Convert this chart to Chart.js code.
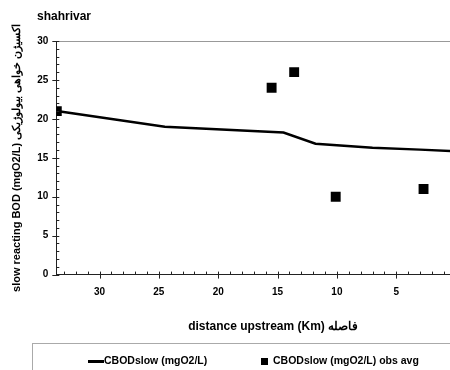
<!DOCTYPE html>
<html>
<head>
<meta charset="utf-8">
<script src="https://cdn.jsdelivr.net/npm/chart.js@4.4.1/dist/chart.umd.min.js"></script>
<style>
  body { margin: 0; overflow: hidden; background: #fff; }
  #wrap { position: relative; width: 516px; height: 370px; }
  canvas { display: block; }
  #legend {
    position: absolute; left: 32px; top: 343px; width: 452px; height: 40px;
    border: 1px solid #aaa; box-sizing: border-box;
    font: bold 10.5px 'Liberation Sans', Arial, sans-serif;
    color: #000;
  }
  .item { position: absolute; top: 9px; white-space: nowrap; line-height: 14px; }
  .line { display: inline-block; width: 16px; height: 3px; background: #000; vertical-align: middle; }
  .sq { display: inline-block; width: 7px; height: 7px; background: #000; vertical-align: middle; margin-right: 5px; }
</style>
</head>
<body>
<div id="wrap">
  <canvas id="chart" width="516" height="370"></canvas>
  <div id="legend"></div>
</div>
<script>
const chartTitle = 'shahrivar';
const xTitle = 'distance upstream (Km) فاصله';
const yTitle = 'slow reacting BOD (mgO2/L) اکسیژن خواهی بیولوژیکی';

// model line
const modelKm = [33.6, 24.5, 14.5, 11.8, 7, 3, 0];
const modelBod = [21, 19, 18.25, 16.8, 16.3, 16.05, 15.85];
// observed averages
const obsKm = [33.6, 15.5, 13.6, 10.1, 2.7];
const obsBod = [21, 24, 26, 10, 11];

const xTicks = [30, 25, 20, 15, 10, 5];
const seriesNames = ['CBODslow (mgO2/L)', 'CBODslow (mgO2/L) obs avg'];

const sans = "'Liberation Sans', Arial, sans-serif";

// small ticks on both axes, like the excel original
const tickMarks = {
  id: 'tickMarks',
  afterDraw(chart) {
    const { ctx, chartArea: a } = chart;
    const x = chart.scales.x, y = chart.scales.y;
    ctx.save();
    ctx.strokeStyle = '#222';
    ctx.lineWidth = 1;
    ctx.beginPath();
    for (let v = 0; v <= 30; v++) {
      const py = Math.round(y.getPixelForValue(v)) + 0.5;
      const major = v % 5 === 0;
      ctx.moveTo(a.left - (major ? 4 : 0), py);
      ctx.lineTo(a.left + 3, py);
    }
    for (let v = Math.ceil(x.min); v <= Math.floor(x.max); v++) {
      const px = Math.round(x.getPixelForValue(v)) + 0.5;
      const major = v % 5 === 0;
      ctx.moveTo(px, a.bottom - 3);
      ctx.lineTo(px, a.bottom + (major ? 4 : 0));
    }
    ctx.stroke();
    ctx.fillStyle = '#000';
    ctx.font = 'bold 12px ' + sans;
    ctx.textBaseline = 'middle';
    ctx.fillText(chartTitle, 37, 17);
    ctx.restore();
  }
};

new Chart(document.getElementById('chart'), {
  type: 'scatter',
  data: {
    datasets: [
      {
        label: seriesNames[0],
        data: modelKm.map((k, i) => ({ x: k, y: modelBod[i] })),
        showLine: true,
        borderColor: '#000',
        borderWidth: 2.5,
        pointRadius: 0,
        tension: 0
      },
      {
        label: seriesNames[1],
        data: obsKm.map((k, i) => ({ x: k, y: obsBod[i] })),
        pointStyle: 'rect',
        pointRadius: 7,
        backgroundColor: '#000',
        borderColor: '#000',
        borderWidth: 0
      }
    ]
  },
  options: {
    responsive: false,
    animation: false,
    layout: { padding: { top: 41, left: 10, right: 26, bottom: 36 } },
    plugins: {
      legend: { display: false },
      tooltip: { enabled: false }
    },
    scales: {
      x: {
        type: 'linear',
        reverse: true,
        min: -2.9,
        max: 33.64,
        afterBuildTicks: (s) => { s.ticks = xTicks.map(v => ({ value: v })); },
        ticks: { color: '#000', font: { family: sans, size: 10, weight: 'bold' }, padding: 12, maxRotation: 0 },
        grid: { display: true, drawOnChartArea: false, drawTicks: false },
        border: { color: '#222', width: 1 },
        title: {
          display: true, text: xTitle, color: '#000',
          font: { family: sans, size: 12, weight: 'bold' },
          padding: { top: 9, bottom: 0 }
        }
      },
      y: {
        min: 0,
        max: 30,
        ticks: { stepSize: 5, color: '#000', font: { family: sans, size: 10, weight: 'bold' }, padding: 8 },
        grid: {
          drawTicks: false,
          color: (c) => (c.tick && c.tick.value === 30 ? '#999' : 'rgba(0,0,0,0)')
        },
        border: { color: '#222', width: 1 },
        title: {
          display: true, text: yTitle, color: '#000',
          font: { family: sans, size: 11, weight: 'bold' },
          padding: { top: 0, bottom: 6 }
        }
      }
    }
  },
  plugins: [tickMarks]
});

document.getElementById('legend').innerHTML =
  `<span class="item" style="left:55px"><span class="line"></span>${seriesNames[0]}</span>` +
  `<span class="item" style="left:228px"><span class="sq"></span>${seriesNames[1]}</span>`;
</script>
</body>
</html>
